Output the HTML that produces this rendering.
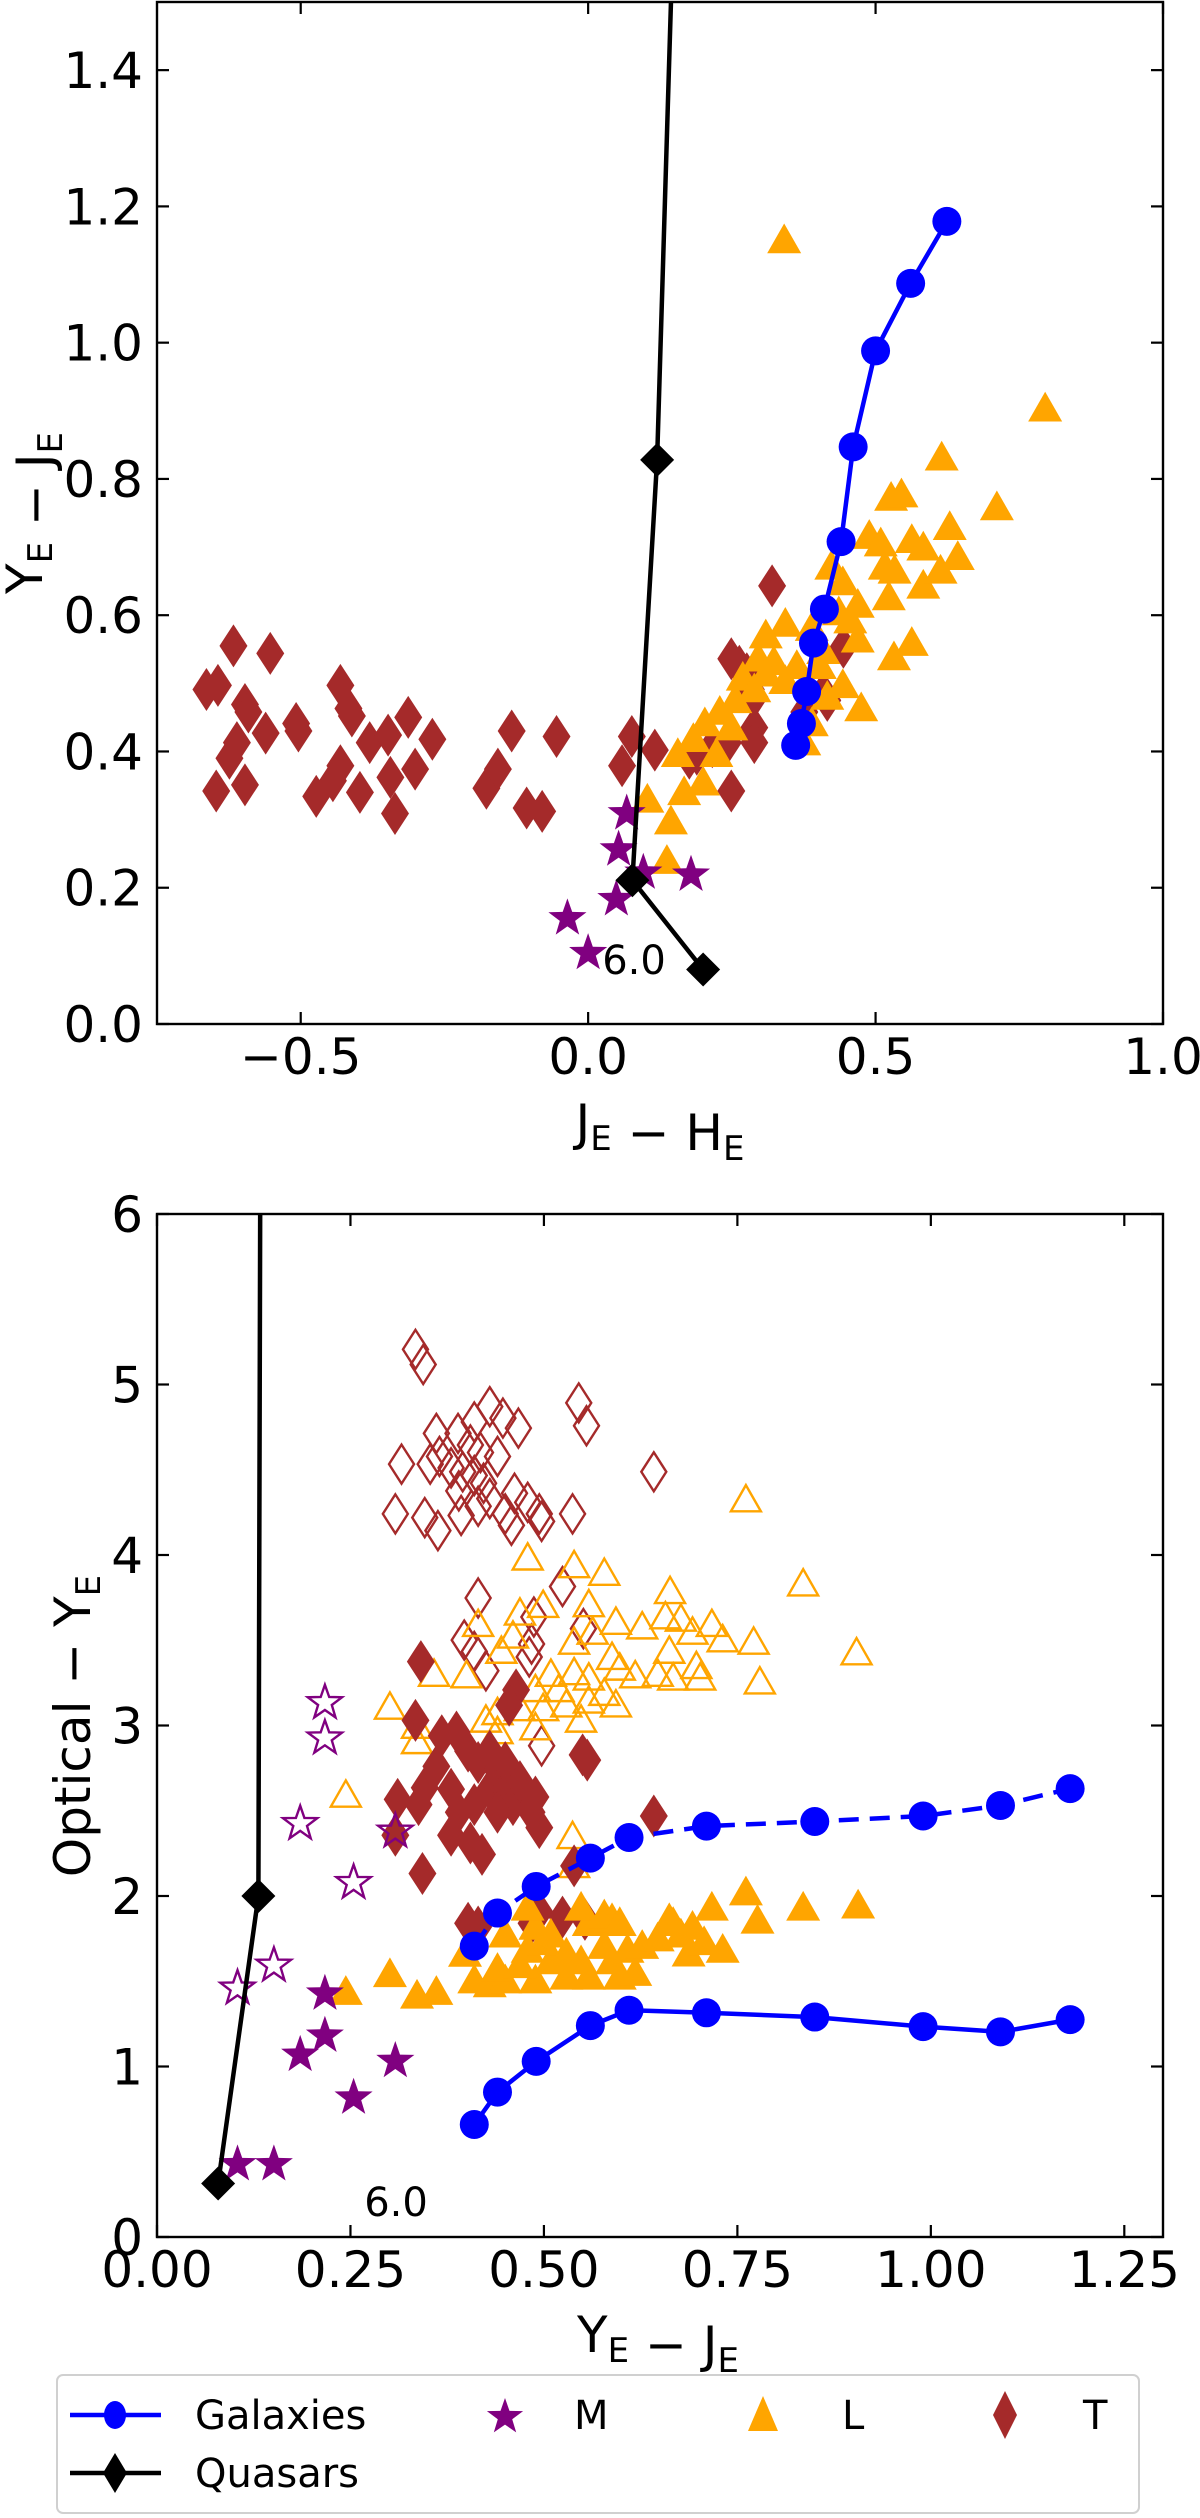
<!DOCTYPE html>
<html><head><meta charset="utf-8"><style>
html,body{margin:0;padding:0;background:#fff;}
svg{display:block;font-family:"DejaVu Sans","Liberation Sans",sans-serif;}
</style></head><body>
<svg id="fig" width="1200" height="2518" viewBox="0 0 1200 2518" xmlns="http://www.w3.org/2000/svg">
<defs>
<clipPath id="clipTop"><rect x="157" y="2" width="1006" height="1022"/></clipPath>
<clipPath id="clipBot"><rect x="157" y="1214" width="1006" height="1023"/></clipPath>
</defs>
<g id="top"></g>
<g id="bot"></g>
<g id="legend"></g>
</svg>
<script>
// ---------- TOP PANEL DATA (x: J-H, y: Y-J) ----------
const topXTicks = [-0.5, 0.0, 0.5, 1.0];
const topXTickLabels = ["\u22120.5", "0.0", "0.5", "1.0"];
const topYTicks = [0.0, 0.2, 0.4, 0.6, 0.8, 1.0, 1.2, 1.4];
const topYTickLabels = ["0.0","0.2","0.4","0.6","0.8","1.0","1.2","1.4"];
const topGalX = [0.361,0.371,0.380,0.392,0.411,0.440,0.461,0.500,0.561,0.624];
const topGalY = [0.409,0.441,0.488,0.559,0.609,0.708,0.847,0.988,1.087,1.178];
const topQsoX = [0.200,0.077,0.120,0.180];
const topQsoY = [0.080,0.211,0.828,2.500];
const topQsoMarkerCount = 3;
const topMX = [-0.036,0.000,0.049,0.053,0.067,0.096,0.179];
const topMY = [0.155,0.104,0.183,0.256,0.309,0.222,0.219];
const topLX = [0.341,0.795,0.615,0.527,0.545,0.711,0.629,0.489,0.509,0.563,0.583,0.643,0.516,0.533,0.583,0.613,0.423,0.443,0.523,0.469,0.436,0.456,0.389,0.343,0.309,0.469,0.409,0.563,0.532,0.296,0.323,0.363,0.309,0.343,0.269,0.289,0.256,0.403,0.443,0.475,0.416,0.229,0.203,0.249,0.389,0.376,0.183,0.156,0.223,0.103,0.167,0.200,0.144,0.137];
const topLY = [1.150,0.903,0.831,0.772,0.777,0.758,0.729,0.716,0.705,0.710,0.699,0.685,0.671,0.665,0.643,0.665,0.671,0.648,0.626,0.615,0.604,0.592,0.581,0.587,0.570,0.564,0.547,0.559,0.538,0.536,0.531,0.525,0.514,0.503,0.508,0.491,0.475,0.525,0.497,0.463,0.480,0.458,0.441,0.435,0.441,0.413,0.418,0.396,0.396,0.329,0.340,0.354,0.297,0.239];
const topTX = [-0.664,-0.644,-0.617,-0.553,-0.647,-0.597,-0.624,-0.611,-0.597,-0.591,-0.561,-0.508,-0.504,-0.473,-0.444,-0.431,-0.431,-0.417,-0.411,-0.397,-0.380,-0.344,-0.348,-0.336,-0.313,-0.301,-0.271,-0.177,-0.157,-0.133,-0.107,-0.080,-0.055,0.059,0.076,0.116,0.176,0.189,0.216,0.243,0.249,0.249,0.263,0.276,0.283,0.289,0.289,0.289,0.320,0.409,0.416,0.444,0.376];
const topTY = [0.491,0.497,0.555,0.544,0.342,0.351,0.390,0.413,0.469,0.458,0.427,0.441,0.430,0.334,0.357,0.379,0.497,0.463,0.452,0.340,0.413,0.362,0.424,0.309,0.450,0.374,0.418,0.346,0.374,0.430,0.317,0.312,0.422,0.379,0.422,0.402,0.390,0.396,0.407,0.413,0.342,0.536,0.525,0.514,0.491,0.480,0.435,0.413,0.643,0.486,0.475,0.553,0.458];

// ---------- BOTTOM PANEL DATA (x: Y-J, y: Optical-Y) ----------
const botXTicks = [0.00,0.25,0.50,0.75,1.00,1.25];
const botXTickLabels = ["0.00","0.25","0.50","0.75","1.00","1.25"];
const botYTicks = [0,1,2,3,4,5,6];
const botYTickLabels = ["0","1","2","3","4","5","6"];
const botGalX = [0.41,0.44,0.49,0.56,0.61,0.71,0.85,0.99,1.09,1.18];
const botGalSolidY = [0.66,0.85,1.03,1.24,1.33,1.315,1.29,1.234,1.203,1.275];
const botGalDashY = [1.706,1.90,2.056,2.222,2.343,2.41,2.437,2.469,2.531,2.63];
const botQsoX = [0.079,0.131,0.135];
const botQsoY = [0.314,2.0,9.0];
const botQsoMarkerCount = 2;
const botMX = [0.104,0.151,0.185,0.217,0.217,0.254,0.308];
const botMFilledY = [0.426,0.426,1.068,1.18,1.427,0.817,1.032];
const botMOpenY = [1.459,1.593,2.424,3.133,2.926,2.078,2.379];
const botLFX = [0.244,0.301,0.336,0.361,0.398,0.761,0.776,0.835,0.906,0.717,0.662,0.410,0.430,0.450,0.489,0.529,0.558,0.598,0.618,0.440,0.469,0.509,0.548,0.588,0.479,0.499,0.529,0.578,0.608,0.450,0.489,0.509,0.558,0.588,0.627,0.647,0.677,0.687,0.707,0.731,0.548,0.578,0.598,0.667,0.692,0.479];
const botLFY = [1.436,1.540,1.414,1.436,1.660,2.020,1.854,1.930,1.943,1.930,1.863,1.504,1.481,1.504,1.504,1.526,1.526,1.526,1.548,1.571,1.593,1.616,1.616,1.616,1.683,1.728,1.661,1.706,1.683,1.773,1.818,1.773,1.840,1.863,1.706,1.750,1.773,1.661,1.728,1.683,1.930,1.885,1.840,1.840,1.818,1.930];
const botLOX = [0.761,0.479,0.539,0.578,0.835,0.558,0.663,0.469,0.499,0.415,0.593,0.627,0.657,0.677,0.717,0.731,0.771,0.904,0.692,0.539,0.563,0.445,0.460,0.358,0.400,0.662,0.588,0.598,0.618,0.647,0.667,0.697,0.702,0.779,0.509,0.539,0.558,0.489,0.519,0.578,0.593,0.558,0.529,0.499,0.469,0.440,0.425,0.301,0.336,0.336,0.440,0.548,0.489,0.244,0.537,0.539];
const botLOY = [4.322,3.981,3.936,3.891,3.829,3.707,3.784,3.658,3.703,3.591,3.604,3.577,3.636,3.622,3.591,3.501,3.487,3.425,3.546,3.487,3.546,3.434,3.523,3.299,3.290,3.434,3.398,3.335,3.290,3.299,3.277,3.344,3.277,3.254,3.299,3.308,3.277,3.209,3.209,3.187,3.119,3.142,3.119,3.097,3.097,3.074,3.030,3.106,2.994,2.904,2.962,3.030,2.985,2.590,2.347,2.177];
const botTOX = [0.334,0.344,0.430,0.467,0.447,0.545,0.555,0.361,0.389,0.410,0.405,0.418,0.440,0.316,0.353,0.365,0.380,0.395,0.410,0.422,0.390,0.642,0.308,0.346,0.363,0.393,0.415,0.430,0.450,0.458,0.462,0.479,0.494,0.497,0.537,0.415,0.524,0.487,0.484,0.397,0.410,0.425,0.481,0.551,0.497];
const botTOY = [5.206,5.117,4.870,4.744,4.803,4.892,4.758,4.713,4.713,4.780,4.645,4.601,4.578,4.533,4.533,4.578,4.511,4.488,4.466,4.421,4.376,4.488,4.241,4.219,4.143,4.232,4.286,4.331,4.241,4.174,4.362,4.309,4.241,4.197,4.241,3.748,3.815,3.636,3.478,3.501,3.434,3.321,3.402,3.568,2.881];
const botTFX = [0.341,0.334,0.387,0.368,0.311,0.338,0.343,0.308,0.346,0.361,0.380,0.390,0.380,0.405,0.420,0.410,0.430,0.415,0.440,0.450,0.460,0.469,0.489,0.494,0.484,0.450,0.430,0.402,0.464,0.455,0.550,0.556,0.642,0.402,0.415,0.484,0.494,0.524,0.553,0.539,0.440];
const botTFY = [3.375,3.030,2.962,2.940,2.567,2.536,2.132,2.356,2.635,2.760,2.626,2.491,2.356,2.311,2.244,2.536,2.626,2.783,2.738,2.626,2.536,2.671,2.581,2.401,2.491,2.783,2.850,2.850,3.209,3.119,2.828,2.797,2.469,1.840,1.818,1.840,1.908,1.876,1.863,2.177,2.491];

// ---------- helpers ----------
const NS = "http://www.w3.org/2000/svg";
function mk(tag, attrs, parent){
  const e = document.createElementNS(NS, tag);
  for (const k in attrs) e.setAttribute(k, attrs[k]);
  if (parent) parent.appendChild(e);
  return e;
}
function linScale(d0,d1,r0,r1){ return v => r0 + (v-d0)/(d1-d0)*(r1-r0); }

const BLUE="#0000ff", ORANGE="#ffa500", BROWN="#a52a2a", PURPLE="#800080";

function starPath(cx,cy,R){
  let d=""; const r=R*0.4;
  for(let i=0;i<10;i++){
    const a=-Math.PI/2+i*Math.PI/5; const rr=i%2?r:R;
    d+=(i?"L":"M")+(cx+rr*Math.cos(a)).toFixed(1)+","+(cy+rr*Math.sin(a)).toFixed(1);
  }
  return d+"Z";
}
function diamondPath(cx,cy,hw,hh){ return `M${cx},${cy-hh}L${cx+hw},${cy}L${cx},${cy+hh}L${cx-hw},${cy}Z`; }
function triPath(cx,cy,s){ return `M${cx},${cy-s*1.0}L${cx+s*1.0},${cy+s*0.75}L${cx-s*1.0},${cy+s*0.75}Z`; }

function marker(g, type, cx, cy, color, filled, name){
  let e;
  const fill = filled ? color : "none";
  const sw = filled ? 0 : 2.4;
  if (type==="circle") e = mk("circle",{cx:cx,cy:cy,r:14.5,fill:color},g);
  else if (type==="star") e = mk("path",{d:starPath(cx,cy,filled?20:18),fill:fill,stroke:color,"stroke-width":sw},g);
  else if (type==="tdiamond") e = mk("path",{d:diamondPath(cx,cy,filled?14:12.5,filled?21.5:19.5),fill:fill,stroke:color,"stroke-width":sw},g);
  else if (type==="qdiamond") e = mk("path",{d:diamondPath(cx,cy,17,17),fill:color},g);
  else if (type==="tri") e = mk("path",{d:triPath(cx,cy,filled?17:15),fill:fill,stroke:color,"stroke-width":sw},g);
  
  
  return e;
}

function drawAxes(g, L,R,T,B, sx, sy, xt, xtl, yt, ytl, xlabelHTML, ylabelHTML, xlabelPos, ylabelPos, tickFont){
  const frame = mk("rect",{x:L,y:T,width:R-L,height:B-T,fill:"none",stroke:"#000","stroke-width":2.4},g);
  
  
  xt.forEach((v,i)=>{
    const x=sx(v);
    mk("line",{x1:x,y1:B,x2:x,y2:B-12,stroke:"#000","stroke-width":2.2},g);
    mk("line",{x1:x,y1:T,x2:x,y2:T+12,stroke:"#000","stroke-width":2.2},g);
    const t=mk("text",{x:x,y:B+50,"text-anchor":"middle","font-size":tickFont,fill:"#000"},g);
    t.textContent=xtl[i];
    
    
  });
  yt.forEach((v,i)=>{
    const y=sy(v);
    mk("line",{x1:L,y1:y,x2:L+12,y2:y,stroke:"#000","stroke-width":2.2},g);
    mk("line",{x1:R,y1:y,x2:R-12,y2:y,stroke:"#000","stroke-width":2.2},g);
    const t=mk("text",{x:L-14,y:y+18,"text-anchor":"end","font-size":tickFont,fill:"#000"},g);
    t.textContent=ytl[i];
    
    
  });
  const xl=mk("text",{x:xlabelPos[0],y:xlabelPos[1],"text-anchor":"middle","font-size":50,fill:"#000"},g);
  xl.innerHTML=xlabelHTML;
  
  
  const yl=mk("text",{x:0,y:0,"text-anchor":"middle","font-size":50,fill:"#000",transform:`translate(${ylabelPos[0]},${ylabelPos[1]}) rotate(-90)`},g);
  yl.innerHTML=ylabelHTML;
  
  
}

function polyline(g, xs, ys, sx, sy, color, dash, name){
  const pts = xs.map((v,i)=>sx(v).toFixed(1)+","+sy(ys[i]).toFixed(1)).join(" ");
  const a = {points:pts,fill:"none",stroke:color,"stroke-width":4.5,"stroke-linejoin":"round"};
  if (dash) a["stroke-dasharray"]=dash;
  const e = mk("polyline",a,g);
  
  
}

const sub = s => `<tspan font-size="34" dy="10">${s}</tspan><tspan dy="-10"></tspan>`;

// ---------- TOP PANEL ----------
(function(){
  const g=document.getElementById("top");
  const L=157,R=1163,T=2,B=1024;
  const sx=linScale(-0.75,1.0,L,R), sy=linScale(0,1.5,B,T);
  const d=mk("g",{"clip-path":"url(#clipTop)"},g);
  topTX.forEach((v,i)=>marker(d,"tdiamond",sx(v),sy(topTY[i]),BROWN,true,"t-dwarf-point"));
  topLX.forEach((v,i)=>marker(d,"tri",sx(v),sy(topLY[i]),ORANGE,true,"l-dwarf-point"));
  topMX.forEach((v,i)=>marker(d,"star",sx(v),sy(topMY[i]),PURPLE,true,"m-dwarf-point"));
  polyline(d,topQsoX,topQsoY,sx,sy,"#000",null,"quasar-track");
  for(let i=0;i<topQsoMarkerCount;i++) marker(d,"qdiamond",sx(topQsoX[i]),sy(topQsoY[i]),"#000",true,"quasar-point");
  polyline(d,topGalX,topGalY,sx,sy,BLUE,null,"galaxy-track");
  topGalX.forEach((v,i)=>marker(d,"circle",sx(v),sy(topGalY[i]),BLUE,true,"galaxy-point"));
  const lab=mk("text",{x:634,y:974,"text-anchor":"middle","font-size":40,fill:"#000"},g);
  lab.textContent="6.0";
  
  
  drawAxes(g,L,R,T,B,sx,sy,topXTicks,topXTickLabels,topYTicks,topYTickLabels,
    "J"+sub("E")+" \u2212 H"+sub("E"),"Y"+sub("E")+" \u2212 J"+sub("E"),[660,1140],[42,513],50);
})();

// ---------- BOTTOM PANEL ----------
(function(){
  const g=document.getElementById("bot");
  const L=157,R=1163,T=1214,B=2237;
  const sx=linScale(0,1.3,L,R), sy=linScale(0,6,B,T);
  const d=mk("g",{"clip-path":"url(#clipBot)"},g);
  botTOX.forEach((v,i)=>marker(d,"tdiamond",sx(v),sy(botTOY[i]),BROWN,false,"t-dwarf-open-point"));
  botLOX.forEach((v,i)=>marker(d,"tri",sx(v),sy(botLOY[i]),ORANGE,false,"l-dwarf-open-point"));
  botTFX.forEach((v,i)=>marker(d,"tdiamond",sx(v),sy(botTFY[i]),BROWN,true,"t-dwarf-point"));
  botLFX.forEach((v,i)=>marker(d,"tri",sx(v),sy(botLFY[i]),ORANGE,true,"l-dwarf-point"));
  botMX.forEach((v,i)=>marker(d,"star",sx(v),sy(botMOpenY[i]),PURPLE,false,"m-dwarf-open-point"));
  botMX.forEach((v,i)=>marker(d,"star",sx(v),sy(botMFilledY[i]),PURPLE,true,"m-dwarf-point"));
  polyline(d,botQsoX,botQsoY,sx,sy,"#000",null,"quasar-track");
  for(let i=0;i<botQsoMarkerCount;i++) marker(d,"qdiamond",sx(botQsoX[i]),sy(botQsoY[i]),"#000",true,"quasar-point");
  polyline(d,botGalX,botGalSolidY,sx,sy,BLUE,null,"galaxy-track-solid");
  polyline(d,botGalX,botGalDashY,sx,sy,BLUE,"20,11","galaxy-track-dashed");
  botGalX.forEach((v,i)=>marker(d,"circle",sx(v),sy(botGalSolidY[i]),BLUE,true,"galaxy-point"));
  botGalX.forEach((v,i)=>marker(d,"circle",sx(v),sy(botGalDashY[i]),BLUE,true,"galaxy-point-dashed"));
  const lab=mk("text",{x:396,y:2216,"text-anchor":"middle","font-size":40,fill:"#000"},g);
  lab.textContent="6.0";
  
  
  drawAxes(g,L,R,T,B,sx,sy,botXTicks,botXTickLabels,botYTicks,botYTickLabels,
    "Y"+sub("E")+" \u2212 J"+sub("E"),"Optical \u2212 Y"+sub("E"),[658,2352],[90,1726],50);
})();

// ---------- LEGEND ----------
(function(){
  const g=document.getElementById("legend");
  const box=mk("rect",{x:57,y:2375,width:1082,height:138,rx:6,fill:"#fff",stroke:"#d0d0d0","stroke-width":2},g);
  
  
  function entry(name,label,tx,ty,draw){
    const eg=mk("g",{},g);
    
    
    draw(eg);
    const t=mk("text",{x:tx,y:ty+14,"font-size":40,fill:"#000"},eg);
    t.textContent=label;
  }
  entry("legend-entry-galaxies","Galaxies",195,2415,eg=>{
    mk("line",{x1:70,y1:2415,x2:161,y2:2415,stroke:BLUE,"stroke-width":4.5},eg);
    mk("ellipse",{cx:115,cy:2415,rx:11,ry:14,fill:BLUE},eg);
  });
  entry("legend-entry-quasars","Quasars",195,2473,eg=>{
    mk("line",{x1:70,y1:2473,x2:161,y2:2473,stroke:"#000","stroke-width":4.5},eg);
    mk("path",{d:diamondPath(115,2473,12,20),fill:"#000"},eg);
  });
  entry("legend-entry-m","M",574,2415,eg=>{
    mk("path",{d:starPath(505,2417,19),fill:PURPLE},eg);
  });
  entry("legend-entry-l","L",842,2415,eg=>{
    mk("path",{d:"M763,2396L778,2431L748,2431Z",fill:ORANGE},eg);
  });
  entry("legend-entry-t","T",1083,2415,eg=>{
    mk("path",{d:diamondPath(1005,2415,12,24),fill:BROWN},eg);
  });
})();
</script>
</body></html>
